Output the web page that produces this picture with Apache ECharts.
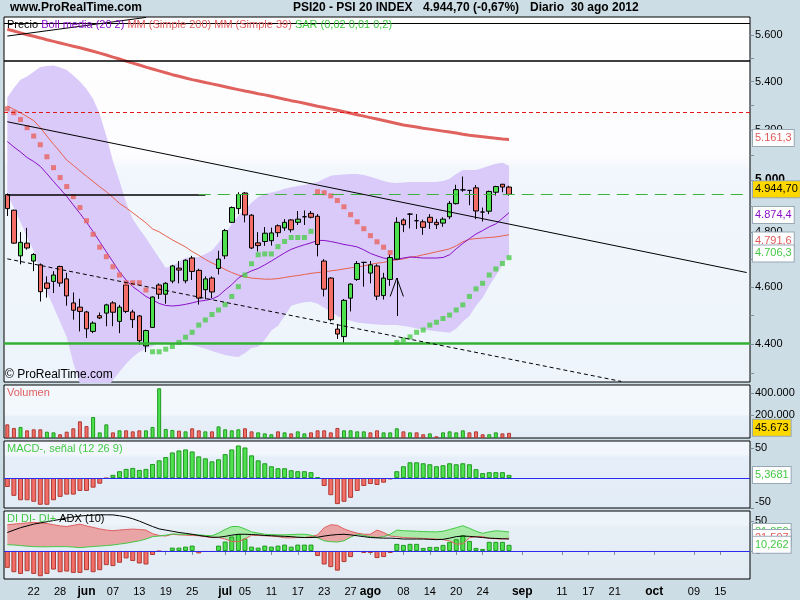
<!DOCTYPE html>
<html><head><meta charset="utf-8">
<script src="https://cdn.jsdelivr.net/npm/echarts@6/dist/echarts.min.js"></script>
<style>html,body{margin:0;padding:0;background:#cddde5;}#c{width:800px;height:600px;}</style>
</head><body><div id="c"></div><script>
// ---------- categories (trading days) ----------
const mayDays=[16,17,18,21,22,23,24,25,28,29,30,31];
const junDays=[1,4,5,6,7,8,11,12,13,14,15,18,19,20,21,22,25,26,27,28,29];
const julDays=[2,3,4,5,6,9,10,11,12,13,16,17,18,19,20,23,24,25,26,27,30,31];
const agoDays=[1,2,3,6,7,8,9,10,13,14,15,16,17,20,21,22,23,24,27,28,29,30,31];
const sepDays=[3,4,5,6,7,10,11,12,13,14,17,18,19,20,21,24,25,26,27,28];
const octDays=[1,2,3,4,5,8,9,10,11,12,15,16,17,18,19];
const tickLabels={'2012-05-22':'22','2012-05-28':'28','2012-06-01':'jun','2012-06-07':'07','2012-06-13':'13','2012-06-19':'19','2012-06-25':'25','2012-07-02':'jul','2012-07-05':'05','2012-07-11':'11','2012-07-17':'17','2012-07-23':'23','2012-07-27':'27','2012-08-01':'ago','2012-08-08':'08','2012-08-14':'14','2012-08-20':'20','2012-08-24':'24','2012-09-03':'sep','2012-09-11':'11','2012-09-17':'17','2012-09-21':'21','2012-10-01':'oct','2012-10-09':'09','2012-10-15':'15'};
const monthLabels=['jun','jul','ago','sep','oct'];

// ---------- price (OHLC) ----------
const opens=[4944,4884,4713,4760,4694,4680,4614,4620,4674,4629,4543,4528,4511,4443,4498,4507,4543,4478,4607,4511,4497,4393,4457,4607,4574,4621,4668,4622,4705,4660,4590,4632,4667,4713,4838,4890,4950,4865,4761,4766,4769,4825,4817,4847,4838,4859,4872,4861,4694,4632,4451,4425,4560,4627,4689,4650,4676,4569,4627,4701,4847,4869,4844,4840,4857,4838,4835,4859,4909,4962,4960,4970,4877,4880,4953,4984,4973];
const closes=[4890,4760,4763,4742,4718,4583,4595,4643,4614,4568,4517,4513,4452,4472,4490,4536,4510,4528,4513,4484,4411,4446,4564,4574,4613,4676,4661,4697,4656,4560,4629,4582,4701,4807,4894,4944,4866,4742,4751,4797,4798,4799,4838,4810,4850,4859,4857,4755,4592,4484,4434,4552,4610,4685,4689,4680,4567,4632,4707,4838,4829,4869,4844,4819,4838,4829,4850,4910,4963,4962,4960,4881,4877,4956,4975,4973,4944.7];
const lows=[4862,4758,4682,4736,4657,4548,4562,4578,4601,4533,4484,4443,4420,4437,4486,4461,4461,4437,4507,4455,4397,4372,4456,4557,4540,4613,4613,4613,4625,4537,4556,4560,4645,4701,4835,4869,4838,4738,4729,4750,4751,4783,4806,4800,4828,4828,4853,4711,4566,4478,4417,4402,4513,4622,4601,4613,4553,4555,4604,4698,4801,4815,4813,4791,4813,4813,4821,4850,4906,4955,4903,4850,4841,4869,4940,4953,4940];
const highs=[4948,4886,4801,4817,4723,4685,4638,4657,4677,4651,4580,4558,4515,4478,4509,4540,4549,4536,4619,4519,4500,4449,4566,4613,4617,4680,4694,4700,4713,4666,4638,4638,4732,4813,4898,4953,4954,4869,4801,4820,4818,4830,4850,4850,4881,4883,4881,4869,4701,4635,4469,4557,4613,4694,4691,4694,4682,4651,4719,4857,4853,4873,4869,4848,4869,4851,4857,4919,4982,5014,4962,4981,4894,4959,4978,4985,4978];

// ---------- overlays ----------
const mm200=[5625,5617,5609,5601,5594,5587,5579,5572,5565,5558,5551,5544,5537,5529,5521,5513,5504,5496,5487,5478,5470,5461,5453,5445,5437,5429,5422,5415,5408,5402,5396,5390,5384,5378,5372,5366,5360,5355,5349,5344,5338,5332,5326,5320,5315,5309,5303,5297,5292,5286,5280,5274,5268,5262,5256,5250,5244,5238,5232,5226,5220,5216,5212,5207,5203,5199,5195,5191,5187,5182,5178,5175,5172,5169,5166,5163,5161.3];
const mm39=[5298,5284,5270,5254,5238,5209,5175,5142,5111,5079,5058,5036,5015,4995,4974,4955,4933,4910,4893,4874,4855,4836,4813,4802,4787,4772,4759,4746,4729,4715,4700,4687,4676,4663,4652,4643,4636,4632,4630,4628,4628,4630,4634,4638,4641,4645,4649,4652,4654,4658,4661,4665,4669,4672,4676,4682,4686,4689,4695,4698,4702,4708,4711,4717,4722,4728,4733,4739,4750,4765,4774,4777,4779,4781,4783,4787,4791.6];
const bollMid=[5153,5131,5111,5089,5073,5054,5025,4995,4966,4937,4904,4872,4838,4803,4765,4728,4691,4654,4625,4601,4584,4566,4554,4541,4534,4532,4534,4538,4543,4549,4552,4557,4568,4589,4608,4632,4647,4658,4667,4680,4694,4709,4724,4737,4746,4754,4761,4770,4770,4766,4761,4755,4751,4746,4735,4722,4713,4705,4700,4700,4705,4709,4707,4705,4705,4705,4707,4717,4739,4759,4777,4794,4807,4821,4832,4853,4874.4];
const bollUp=[5333,5373,5407,5421,5441,5462,5466,5468,5459,5449,5426,5400,5369,5327,5265,5175,5075,4997,4912,4851,4813,4779,4742,4705,4669,4676,4691,4705,4709,4709,4720,4733,4761,4795,4833,4864,4885,4912,4935,4947,4952,4958,4966,4972,4977,4981,4987,4993,5005,5017,5020,5022,5024,5024,5020,5013,5005,4997,4991,4989,4991,4993,4993,4993,4993,4993,4997,5005,5024,5040,5040,5040,5048,5056,5064,5068,5056];
const bollLow=[4946,4893,4839,4783,4731,4654,4582,4529,4476,4424,4335,4265,4245,4231,4228,4248,4278,4305,4332,4355,4372,4383,4393,4403,4405,4407,4405,4400,4395,4390,4383,4376,4369,4362,4358,4355,4369,4386,4390,4414,4446,4463,4497,4533,4540,4545,4547,4540,4526,4512,4497,4487,4480,4474,4471,4469,4467,4465,4465,4465,4462,4458,4453,4450,4446,4444,4441,4438,4452,4477,4497,4533,4561,4604,4640,4680,4716];
const sarDown=[5286,5270,5242,5209,5175,5140,5092,5049,5010,4975,4936,4894,4844,4793,4745,4710,4673,4643,4615,4615,4615,4589,null,null,null,null,null,null,null,null,null,null,null,null,null,null,null,null,null,null,null,null,null,null,null,null,null,4955,4951,4939,4921,4897,4867,4840,4814,4788,4765,4745,4725,null,null,null,null,null,null,null,null,null,null,null,null,null,null,null,null,null,null];
const sarUp=[null,null,null,null,null,null,null,null,null,null,null,null,null,null,null,null,null,null,null,null,null,null,4373,4373,4382,4391,4405,4423,4440,4465,4483,4502,4518,4537,4566,4601,4643,4684,4717,4720,4720,4747,4766,4781,4781,4781,4804,null,null,null,null,null,null,null,null,null,null,null,null,4405,4414,4424,4440,4448,4465,4475,4488,4500,4518,4536,4566,4593,4613,4643,4665,4685,4706.3];

// ---------- lower panels ----------
const volume=[121000,89000,98000,68000,77000,77000,56000,50000,33000,56000,86000,148000,106000,186000,50000,121000,50000,68000,68000,59000,68000,68000,98000,441000,80000,71000,65000,59000,86000,68000,59000,59000,103000,77000,68000,77000,86000,59000,50000,41000,33000,59000,50000,41000,59000,41000,50000,68000,68000,50000,89000,68000,68000,59000,59000,50000,68000,50000,50000,86000,59000,50000,50000,33000,41000,15000,50000,59000,50000,68000,50000,59000,33000,33000,50000,41000,45673];
const volumeUp=[0,0,1,0,0,0,1,1,0,0,0,0,0,1,1,1,0,1,0,0,0,1,1,1,1,1,0,1,0,0,1,0,1,1,1,1,0,0,1,1,1,0,1,0,1,1,0,0,0,0,0,1,1,1,1,0,0,1,1,1,0,1,0,0,1,0,1,1,1,1,0,0,0,1,1,0,0];
const macdHist=[-14.9,-29.7,-37,-37,-39.6,-44.6,-44.6,-37,-31.4,-27.6,-27.6,-21.5,-21.5,-16,-9.4,-0.4,5.4,11.5,15.4,17,13.7,15.4,23.6,29.7,35.2,42.9,46.2,47.9,44.6,36.3,33,28,31.4,40.1,47.9,54.5,51.2,38,29.7,24.8,19.8,16.5,16.5,13.2,11.5,11.5,9.9,1.7,-13.2,-28.6,-43.5,-39.6,-33,-21.5,-13.2,-9.9,-11.5,-7.7,-2.2,11.5,19.8,26.4,26.4,24.8,23.1,19.8,21.5,24.8,23.1,24.8,23.1,14.9,8.3,9.9,9.9,9.9,5.3681];
const diPlus=[10.5,10,9,8,7.3,7,7,7.3,7.3,7.3,6.5,5.6,6.5,7.5,8.2,9,10,11.5,13,15,17,20,24,25,26.5,28.5,28,28,27.5,27,26,25.5,30,36,41,41,37,32,30,28,27.5,27,27,27.5,28,28,26.5,22,17,15.5,15,17,23,28,26,24,22.5,24,28,35,34,33.5,33,32.5,32.2,32,33,36,39,42.4,38,33,29.6,32,33.9,33,31.859];
const diMinus=[44,45,46,47,48,47,46,44,42,41,43,45,42,39.5,37,35,34,35,36,36.6,36,35,29,26,25,28,27,26.5,26,25.5,24,22.5,22.5,20,16,15.5,20,26.5,26,25.5,25,24,22,22,22.5,22.5,24,27,39,44,43,37,33,30,28,28,35,31,25,24,22.5,22,21.5,21,20.5,20,19,17,11.5,12,22,24.2,24.2,21,20.5,20,21.597];
const adx=[31,35,39,42,45,47,49,51,53,55.5,57,58.5,59.5,60,60.5,60.6,60.5,59,57,54,50,45.5,41,37,35,33,31,29.6,28,26,24.5,23,23,24.5,26.5,28,28,27.5,27,26,25.5,25,24.5,24,23,22.5,22.5,23,25,26.5,27.5,28,27,25.5,24,22.5,22,21.5,21.5,21,20,20,20,20,19.5,19,19.5,21.5,24,25,24.5,23.5,22.5,21.5,21,20.5,20];
const diHist=[-28.3,-35.6,-38.5,-33.9,-38.5,-42.4,-38.5,-31.2,-35.6,-34.5,-36.8,-36.8,-32.2,-35.6,-32.2,-23.7,-25.4,-19.8,-12.5,-16.9,-21,-22.7,-6.8,-0.8,-1.7,5.6,5.6,7.3,9,-4,-1.7,-1.7,9,15.8,24.2,28.2,20.8,7.3,5.6,9,7.3,9,10.7,7.3,10.7,10.7,10.7,-8.5,-22.7,-27.1,-33,-18.6,-10.2,-1.7,-3.4,-3.4,-11.9,-10.2,-3.4,11.9,10.2,11.9,11.9,5.1,6.8,6.8,10.2,15.3,19.7,26.4,16.9,5.1,3.4,15.3,15.3,15.3,10.262];

// ---------- axis tick values ----------
const mainTickVals=[4300,4400,4500,4600,4700,4800,4900,5000,5100,5200,5300,5400,5500,5600];
const mainLabelVals=[4400,4600,4800,5000,5200,5400,5600];
const volLabelVals=[200000,400000];
const macdLabelVals=[-50,50];
const diLabelVals=[0,50];

// ---------- drawn annotations (price levels) ----------
const levelLinesBlack=[5644,5513];
const levelRedDashed=5255;
const levelGreen=4414;
const levelOldClose=4942;
const trendUpper=[5233,4652];
const trendLowerDashed=[4702,4273];
const trendTopLeft=[5595,5677];
const arrowVals=[4497,4566,4632];

// ================== build ==================
const dates=[];
[[5,mayDays],[6,junDays],[7,julDays],[8,agoDays],[9,sepDays],[10,octDays]].forEach(([m,ds])=>ds.forEach(d=>dates.push('2012-'+String(m).padStart(2,'0')+'-'+String(d).padStart(2,'0'))));
const L=Math.log;
const Lm=a=>a.map(v=>v==null?null:L(v));
function fmtNum(v,dec){const s=Number(v).toFixed(dec);const p=s.split('.');const neg=p[0][0]==='-';let ip=neg?p[0].slice(1):p[0];ip=ip.replace(/\B(?=(\d{3})+(?!\d))/g,'.');return (neg?'-':'')+ip+(p[1]?','+p[1]:'');}
const FONT='"Liberation Sans", Arial, sans-serif';
const N=opens.length;
const last=a=>a[a.length-1];
const GREEN='#4ee04e', GREEN_B='#1f9a1f', RED='#f26e66', RED_B='#b03a34';

const chart=echarts.init(document.getElementById('c'),null,{renderer:'canvas'});
const grids=[
  {left:4,right:50,top:17,height:365},
  {left:4,right:50,top:385,height:53},
  {left:4,right:50,top:441,height:67},
  {left:4,right:50,top:511,height:68}
];
const bgs=[
  ['#ffffff','#fdfcfe','#f1f7fc','#edf4fb',0.38,0.42],
  ['#f3f8fd','#f3f8fd','#e7eff8','#e4edf7',0.55,0.6],
  ['#f3f7fd','#f3f7fd','#e6eff9','#e2ecf6',0.2,0.25],
  ['#edf5fa','#edf5fa','#e6eef6','#e3ebf4',0.2,0.25]
];
grids.forEach((g,i)=>{const b=bgs[i];g.show=true;g.borderColor='#000';g.borderWidth=1;
  g.backgroundColor=new echarts.graphic.LinearGradient(0,0,0,1,[{offset:0,color:b[0]},{offset:b[4],color:b[1]},{offset:b[5],color:b[2]},{offset:1,color:b[3]}]);});

const isTick=(idx,val)=>tickLabels[val]!==undefined;
const xAxes=[0,1,2,3].map(k=>({type:'category',gridIndex:k,data:dates,boundaryGap:true,
  axisLine:{show:false},splitLine:{show:false},
  axisTick:{show:k===3,interval:isTick,alignWithLabel:true,length:4,lineStyle:{color:'#7d8e9b'}},
  axisLabel:{show:k===3,interval:isTick,margin:7,fontFamily:FONT,fontSize:11,color:'#000',
    formatter:v=>{const t=tickLabels[v];if(t===undefined)return '';return monthLabels.indexOf(t)>=0?'{m|'+t+'}':t;},
    rich:{m:{fontWeight:'bold',fontSize:12,fontFamily:FONT,color:'#000'}}}}));

const yBase=(k,min,max,ticks,labels,fmt,rich)=>({type:'value',gridIndex:k,position:'right',min:min,max:max,
  axisLine:{show:false},splitLine:{show:false},
  axisTick:{show:true,customValues:ticks,length:4,lineStyle:{color:'#7d8e9b'}},
  axisLabel:{customValues:labels,margin:5,fontFamily:FONT,fontSize:11,color:'#000',formatter:fmt,rich:rich||{}}});
const yAxes=[
  yBase(0,L(4271),L(5679),mainTickVals.map(L),mainLabelVals.map(L),v=>{const n=Math.round(Math.exp(v)/100)*100;const s=fmtNum(n,0);return n===5000?'{b|'+s+'}':s;},{b:{fontWeight:'bold',fontSize:12,fontFamily:FONT,color:'#000'}}),
  yBase(1,0,470000,volLabelVals,volLabelVals,v=>fmtNum(v,0)),
  yBase(2,-50,62,macdLabelVals,macdLabelVals,v=>v<0?'{n|'+v+'}':String(v),{n:{padding:[0,0,12,0],fontFamily:FONT,fontSize:11,color:'#000'}}),
  yBase(3,-47,67,diLabelVals,diLabelVals,v=>String(v))
];

const noSym={symbol:'none',silent:true,animation:false};
const tag=(v,text,color,bg,offY)=>({yAxis:v,lineStyle:{color:'rgba(0,0,0,0)',width:0},
  label:{show:true,position:'end',distance:3,formatter:text,color:color,backgroundColor:bg,borderColor:'#98a9b6',borderWidth:1,padding:[3,2,2,2],fontFamily:FONT,fontSize:11,offset:[0,offY||0],opacity:1}});
const seg=(a,b,style)=>[{coord:a,lineStyle:style},{coord:b}];
const blk={color:'#000',width:1,type:'solid'};

const candleData=opens.map((o,i)=>[L(o),L(closes[i]),L(lows[i]),L(highs[i])]);
const bandDiff=bollUp.map((u,i)=>L(u)-L(bollLow[i]));

const series=[
  {name:'bandLow',type:'line',xAxisIndex:0,yAxisIndex:0,data:Lm(bollLow),stack:'boll',symbol:'none',lineStyle:{opacity:0},z:1,silent:true},
  {name:'bandDiff',type:'line',xAxisIndex:0,yAxisIndex:0,data:bandDiff,stack:'boll',symbol:'none',lineStyle:{opacity:0},areaStyle:{color:'#d9caf9',opacity:1},z:1,silent:true},
  {name:'MM200',type:'line',xAxisIndex:0,yAxisIndex:0,data:Lm(mm200),symbol:'none',lineStyle:{color:'#e0625e',width:3},z:2},
  {name:'MM39',type:'line',xAxisIndex:0,yAxisIndex:0,data:Lm(mm39),symbol:'none',lineStyle:{color:'#e8604c',width:1},z:2},
  {name:'Boll media',type:'line',xAxisIndex:0,yAxisIndex:0,data:Lm(bollMid),symbol:'none',lineStyle:{color:'#8a10c8',width:1},z:2},
  {name:'Precio',type:'candlestick',xAxisIndex:0,yAxisIndex:0,data:candleData,barWidth:5,z:3,
    itemStyle:{color:GREEN,color0:RED,borderColor:'#000',borderColor0:'#000',borderColorDoji:'#000',borderWidth:1},
    markLine:Object.assign({},noSym,{label:{show:false},data:[
      {yAxis:L(levelLinesBlack[0]),lineStyle:blk},
      {yAxis:L(levelLinesBlack[1]),lineStyle:Object.assign({},blk,{width:1.5})},
      {yAxis:L(levelRedDashed),lineStyle:{color:'#e01818',width:1,type:[4,3]}},
      {yAxis:L(levelGreen),lineStyle:{color:'#33b033',width:2.5,type:'solid'}},
      seg([dates[0],L(levelOldClose)],[dates[30],L(levelOldClose)],Object.assign({},blk,{width:1.5})),
      seg([dates[29],L(last(closes))],[dates[N-1+36],L(last(closes))],{color:'#3cb43c',width:1,type:[12,7]}),
      seg([dates[0],L(trendUpper[0])],[dates[112],L(trendUpper[1])],blk),
      seg([dates[0],L(trendLowerDashed[0])],[dates[93],L(trendLowerDashed[1])],{color:'#000',width:1,type:[4,3]}),
      seg([dates[0],L(trendTopLeft[0])],[dates[21],L(trendTopLeft[1])],blk),
      seg([dates[59],L(arrowVals[0])],[dates[59],L(arrowVals[2])],blk),
      seg([dates[58],L(arrowVals[1])],[dates[59],L(arrowVals[2])],blk),
      seg([dates[60],L(arrowVals[1])],[dates[59],L(arrowVals[2])],blk)
    ]})},
  {name:'SARdown',type:'scatter',xAxisIndex:0,yAxisIndex:0,data:Lm(sarDown),symbol:'rect',symbolSize:5,itemStyle:{color:'#e8625c'},z:4},
  {name:'SARup',type:'scatter',xAxisIndex:0,yAxisIndex:0,data:Lm(sarUp),symbol:'rect',symbolSize:5,itemStyle:{color:'#4ccc4c'},z:4},
  {name:'tagsMain',type:'line',xAxisIndex:0,yAxisIndex:0,data:dates.map(()=>null),symbol:'none',z:10,
    markLine:Object.assign({},noSym,{data:[
      tag(L(last(mm200)),fmtNum(last(mm200),1),'#e05a5a','#ffffff'),
      tag(L(last(closes)),fmtNum(last(closes),2),'#000','#ffd800'),
      tag(L(last(bollMid)),fmtNum(last(bollMid),1),'#8a10c8','#ffffff'),
      tag(L(last(mm39)),fmtNum(last(mm39),1),'#e05a5a','#ffffff'),
      tag(L(last(sarUp)),fmtNum(last(sarUp),1),'#44c844','#ffffff')
    ]})},
  // volume
  {name:'Volumen',type:'bar',xAxisIndex:1,yAxisIndex:1,barWidth:4,
    data:volume.map((v,i)=>({value:v,itemStyle:{color:volumeUp[i]?GREEN:RED,borderColor:volumeUp[i]?GREEN_B:RED_B,borderWidth:1}}))},
  {name:'tagsVol',type:'line',xAxisIndex:1,yAxisIndex:1,data:dates.map(()=>null),symbol:'none',z:10,
    markLine:Object.assign({},noSym,{data:[tag(last(volume),fmtNum(last(volume),0),'#000','#ffd800',-5)]})},
  // MACD
  {name:'MACD',type:'bar',xAxisIndex:2,yAxisIndex:2,barWidth:5,
    data:macdHist.map(v=>({value:v,itemStyle:{color:v>=0?GREEN:RED,borderColor:v>=0?GREEN_B:RED_B,borderWidth:1}})),
    markLine:Object.assign({},noSym,{data:[{yAxis:0,lineStyle:{color:'#2a2af0',width:1,type:'solid'},label:{show:false}}]})},
  {name:'tagsMACD',type:'line',xAxisIndex:2,yAxisIndex:2,data:dates.map(()=>null),symbol:'none',z:10,
    markLine:Object.assign({},noSym,{data:[tag(last(macdHist),fmtNum(last(macdHist),4),'#44c844','#ffffff')]})},
  // DI
  {name:'diBase',type:'line',xAxisIndex:3,yAxisIndex:3,data:diPlus.map((p,i)=>Math.min(p,diMinus[i])),stack:'di',symbol:'none',lineStyle:{opacity:0},z:1,silent:true},
  {name:'diRed',type:'line',xAxisIndex:3,yAxisIndex:3,data:diPlus.map((p,i)=>Math.max(diMinus[i]-p,0)),stack:'di',symbol:'none',lineStyle:{opacity:0},areaStyle:{color:'#e9a5a5',opacity:1},z:1,silent:true},
  {name:'diGreen',type:'line',xAxisIndex:3,yAxisIndex:3,data:diPlus.map((p,i)=>Math.max(p-diMinus[i],0)),stack:'di',symbol:'none',lineStyle:{opacity:0},areaStyle:{color:'#a9eaa9',opacity:1},z:1,silent:true},
  {name:'DIhist',type:'bar',xAxisIndex:3,yAxisIndex:3,barWidth:5,z:2,
    data:diHist.map(v=>({value:v,itemStyle:{color:v>=0?GREEN:RED,borderColor:v>=0?GREEN_B:RED_B,borderWidth:1}})),
    markLine:Object.assign({},noSym,{data:[{yAxis:0,lineStyle:{color:'#2a2af0',width:1,type:'solid'},label:{show:false}}]})},
  {name:'DI-',type:'line',xAxisIndex:3,yAxisIndex:3,data:diMinus,symbol:'none',lineStyle:{color:'#e06060',width:1},z:3},
  {name:'DI+',type:'line',xAxisIndex:3,yAxisIndex:3,data:diPlus,symbol:'none',lineStyle:{color:'#44c844',width:1},z:3},
  {name:'ADX',type:'line',xAxisIndex:3,yAxisIndex:3,data:adx,symbol:'none',lineStyle:{color:'#000',width:1},z:3},
  {name:'tagsDI',type:'line',xAxisIndex:3,yAxisIndex:3,data:dates.map(()=>null),symbol:'none',z:10,
    markLine:Object.assign({},noSym,{data:[
      tag(last(diPlus),fmtNum(last(diPlus),3),'#44c844','#ffffff'),
      tag(last(diMinus),fmtNum(last(diMinus),3),'#e05a5a','#ffffff'),
      tag(last(diHist),fmtNum(last(diHist),3),'#44c844','#ffffff')]})}
];

const txt=(x,y,text,font,fill,extra)=>Object.assign({type:'text',left:x,top:y,z:100,silent:true,style:Object.assign({text:text,font:font,fill:fill},extra||{})});
const graphic=[
  txt(10,2,'www.ProRealTime.com','bold 12px '+FONT,'#000'),
  txt(293,2,'PSI20 - PSI 20 INDEX','bold 12px '+FONT,'#000'),
  txt(423,2,fmtNum(last(closes),2)+' (-0,67%)','bold 12px '+FONT,'#000'),
  txt(530,2,'Diario  30 ago 2012','bold 12px '+FONT,'#000'),
  {type:'text',left:7,top:19,z:100,silent:true,style:{text:'{k|Precio} {p|Boll media (20 2)} {r|MM (Simple 200) MM (Simple 39)} {g|SAR (0,02 0,01 0,2)}',font:'11px '+FONT,
    rich:{k:{fill:'#000',font:'11px '+FONT},p:{fill:'#8a10c8',font:'11px '+FONT},r:{fill:'#e06060',font:'11px '+FONT},g:{fill:'#44c844',font:'11px '+FONT}}}},
  txt(5,369,'\u00a9 ProRealTime.com','12px '+FONT,'#000'),
  txt(7,387,'Volumen','11px '+FONT,'#e06060'),
  txt(7,443,'MACD-, se\u00f1al (12 26 9)','11px '+FONT,'#44c844'),
  {type:'text',left:7,top:513,z:100,silent:true,style:{text:'{g|DI DI- DI+} {k|ADX (10)}',font:'11px '+FONT,rich:{g:{fill:'#44c844',font:'11px '+FONT},k:{fill:'#000',font:'11px '+FONT}}}}
];

chart.setOption({animation:false,backgroundColor:'#cddde5',grid:grids,xAxis:xAxes,yAxis:yAxes,series:series,graphic:graphic});
</script></body></html>
